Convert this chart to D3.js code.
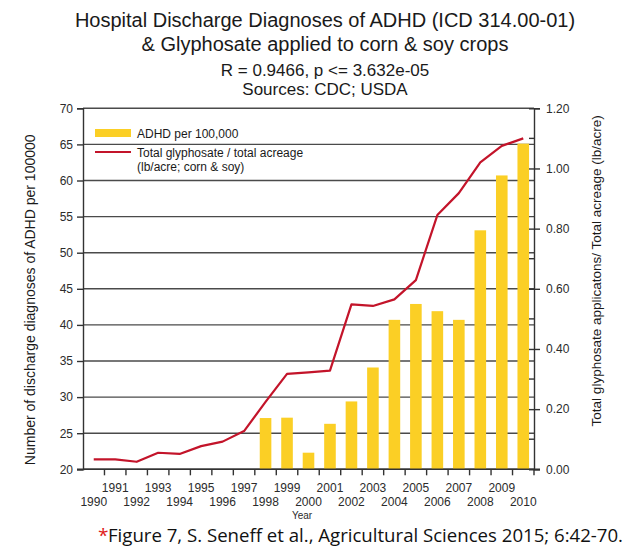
<!DOCTYPE html>
<html>
<head>
<meta charset="utf-8">
<script src="https://cdn.jsdelivr.net/npm/d3@7"></script>
<style>
  html, body { margin: 0; padding: 0; background: #ffffff; }
  svg { display: block; }
</style>
</head>
<body>
<svg id="chart" width="634" height="560"></svg>
<script>
// ---- data ----
const years = [1990,1991,1992,1993,1994,1995,1996,1997,1998,1999,2000,2001,2002,2003,2004,2005,2006,2007,2008,2009,2010];
const adhdYears = [1998,1999,2000,2001,2002,2003,2004,2005,2006,2007,2008,2009,2010];
const adhdValues = [27.1,27.15,22.3,26.3,29.4,34.1,40.7,42.9,41.9,40.7,53.1,60.7,65.1];
const glyphValues = [0.033,0.033,0.025,0.055,0.051,0.077,0.092,0.127,0.224,0.317,0.322,0.328,0.548,0.543,0.565,0.629,0.845,0.918,1.02,1.075,1.10];
const leftTicks = [20,25,30,35,40,45,50,55,60,65,70];
const rightTicks = [0,0.2,0.4,0.6,0.8,1.0,1.2];
const rightMinor = [0.1,0.3,0.5,0.7,0.9,1.1];
const titleLines = ["Hospital Discharge Diagnoses of ADHD (ICD 314.00-01)", "& Glyphosate applied to corn & soy crops"];
const subtitleLines = ["R = 0.9466, p <= 3.632e-05", "Sources: CDC; USDA"];
const legendLabels = ["ADHD per 100,000", "Total glyphosate / total acreage", "(lb/acre; corn & soy)"];
const leftLabel = "Number of discharge diagnoses of ADHD per 100000";
const rightLabel = "Total glyphosate applicatons/ Total acreage (lb/acre)";
const xLabel = "Year";
const footStar = "*";
const footText = "Figure 7, S. Seneff et al., Agricultural Sciences 2015; 6:42-70.";

// ---- layout ----
const L = 83, R = 534, T = 108.3, B = 469.3;
const FONT = "'Liberation Sans', Arial, sans-serif";
const BAR = "#FBCF25", LINE = "#C3142A", GRID = "#4a4a4a", TXT = "#2b2b2b";

const svg = d3.select("#chart");

const x = d3.scaleBand().domain(years).range([L, R]).paddingInner(0.46).paddingOuter(0.23);
const yL = d3.scaleLinear().domain([20, 70]).range([B, T]);
const yR = d3.scaleLinear().domain([0, 1.2]).range([B, T]);
const cx = d => x(d) + x.bandwidth() / 2;
const step = x.step();

// titles
svg.append("g").selectAll("text").data(titleLines).join("text")
  .attr("x", 325).attr("y", (d, i) => 27 + i * 24)
  .attr("text-anchor", "middle").attr("font-family", FONT).attr("font-size", 20)
  .attr("fill", "#1a1a1a").text(d => d);
svg.append("g").selectAll("text").data(subtitleLines).join("text")
  .attr("x", 325).attr("y", (d, i) => 76 + i * 19)
  .attr("text-anchor", "middle").attr("font-family", FONT).attr("font-size", 17)
  .attr("fill", "#1a1a1a").text(d => d);

// gridlines
svg.append("g").selectAll("line").data(leftTicks).join("line")
  .attr("x1", L).attr("x2", R).attr("y1", d => yL(d)).attr("y2", d => yL(d))
  .attr("stroke", GRID).attr("stroke-width", 1.4);

// bars
svg.append("g").selectAll("rect").data(adhdYears.map((yr, i) => ({yr, v: adhdValues[i]}))).join("rect")
  .attr("x", d => x(d.yr)).attr("width", x.bandwidth())
  .attr("y", d => yL(d.v)).attr("height", d => yL(20) - yL(d.v))
  .attr("fill", BAR);

// line
const line = d3.line().x((d, i) => cx(years[i])).y(d => yR(d));
svg.append("path").datum(glyphValues).attr("d", line)
  .attr("fill", "none").attr("stroke", LINE).attr("stroke-width", 2.2).attr("stroke-linejoin", "round");

// left axis
const axL = svg.append("g").attr("transform", `translate(${L},0)`)
  .call(d3.axisLeft(yL).tickValues(leftTicks).tickSize(6).tickPadding(4).tickFormat(d3.format("d")));
axL.select(".domain").attr("stroke", "#333").attr("stroke-width", 1.4);
axL.selectAll(".tick line").attr("stroke", "#333").attr("stroke-width", 1.4);
axL.selectAll("text").attr("font-family", FONT).attr("font-size", 12).attr("fill", TXT);

// right axis
const axR = svg.append("g").attr("transform", `translate(${R},0)`)
  .call(d3.axisRight(yR).tickValues(rightTicks).tickSize(6).tickPadding(6).tickFormat(d3.format(".2f")));
axR.select(".domain").attr("stroke", "#333").attr("stroke-width", 1.4);
axR.selectAll(".tick line").attr("stroke", "#333").attr("stroke-width", 1.4).attr("x1", -5);
axR.selectAll("text").attr("font-family", FONT).attr("font-size", 12).attr("fill", TXT);
axR.append("g").selectAll("line").data(rightMinor).join("line")
  .attr("x1", -5).attr("x2", 0).attr("y1", d => yR(d)).attr("y2", d => yR(d))
  .attr("stroke", "#333").attr("stroke-width", 1.4);

// x axis
const xg = svg.append("g");
xg.append("line").attr("x1", L - 6).attr("x2", R + 6).attr("y1", B).attr("y2", B)
  .attr("stroke", "#333").attr("stroke-width", 1.4);
const boundaries = years.slice(1).map(yr => cx(yr) - step / 2).concat([R]);
xg.selectAll("line.tk").data(boundaries).join("line").attr("class", "tk")
  .attr("x1", d => d).attr("x2", d => d).attr("y1", B).attr("y2", B + 6)
  .attr("stroke", "#333").attr("stroke-width", 1.4);
xg.selectAll("text").data(years).join("text")
  .attr("x", d => cx(d)).attr("y", d => d % 2 === 1 ? 492 : 506)
  .attr("text-anchor", "middle").attr("font-family", FONT).attr("font-size", 12)
  .attr("fill", TXT).text(d => d);

// axis titles
svg.append("text").attr("transform", `translate(35,${(T + B) / 2 + 11}) rotate(-90)`)
  .attr("text-anchor", "middle").attr("font-family", FONT).attr("font-size", 14)
  .attr("fill", "#1a1a1a").text(leftLabel);
svg.append("text").attr("transform", `translate(601,${(T + B) / 2 - 18}) rotate(-90)`)
  .attr("text-anchor", "middle").attr("font-family", FONT).attr("font-size", 13.5)
  .attr("fill", "#1a1a1a").text(rightLabel);
svg.append("text").attr("x", 302).attr("y", 519).attr("text-anchor", "middle")
  .attr("font-family", FONT).attr("font-size", 10).attr("fill", TXT).text(xLabel);

// legend
const lg = svg.append("g");
lg.append("rect").attr("x", 95).attr("y", 129).attr("width", 36).attr("height", 8).attr("fill", BAR);
lg.append("line").attr("x1", 95).attr("x2", 131).attr("y1", 152).attr("y2", 152)
  .attr("stroke", LINE).attr("stroke-width", 2.2);
lg.selectAll("text").data(legendLabels).join("text")
  .attr("x", 137).attr("y", (d, i) => [137.5, 157, 171][i])
  .attr("font-family", FONT).attr("font-size", 12).attr("fill", "#1a1a1a").text(d => d);

// footnote
svg.append("text").attr("x", 98).attr("y", 542)
  .attr("font-family", "'Open Sans', 'Noto Sans', sans-serif").attr("font-size", 19)
  .attr("fill", "#e0201b").text(footStar);
svg.append("text").attr("x", 108).attr("y", 542)
  .attr("font-family", "'Open Sans', 'Noto Sans', sans-serif").attr("font-size", 18)
  .attr("textLength", 515).attr("lengthAdjust", "spacingAndGlyphs")
  .attr("fill", "#111").text(footText);
</script>
</body>
</html>
